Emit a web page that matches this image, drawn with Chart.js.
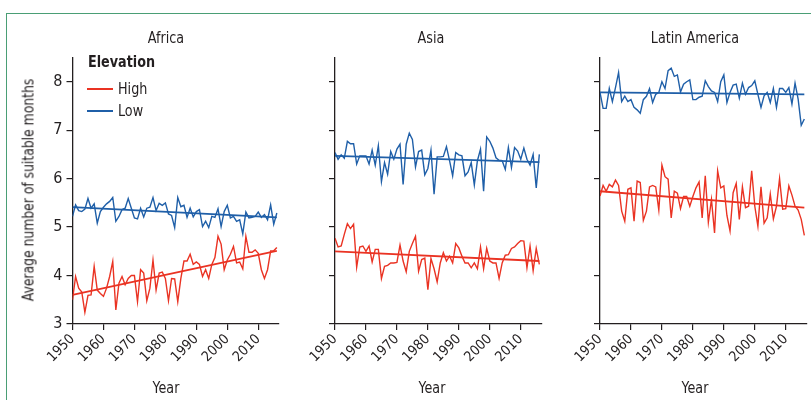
<!DOCTYPE html>
<html><head><meta charset="utf-8">
<script src="https://cdn.jsdelivr.net/npm/chart.js@4.4.0/dist/chart.umd.min.js"></script>
<style>
body{margin:0;background:#fff;width:811px;height:400px;overflow:hidden;position:relative;font-family:"DejaVu Sans Condensed",sans-serif;color:#231f20}
.frame{position:absolute;left:6px;top:13px;width:840px;height:420px;border-left:1.5px solid #4a9e75;border-top:1.5px solid #4a9e75}
canvas{position:absolute;left:0;top:0}
.t{position:absolute;font-size:16.5px;white-space:nowrap;transform:translate(-50%,-50%) scaleX(0.86)}
.l{position:absolute;font-size:16.5px;white-space:nowrap;transform-origin:0 50%;transform:translateY(-50%) scaleX(0.86)}
.sw{position:absolute;height:1.6px;width:26px}
</style></head><body>
<div class="frame"></div>
<canvas id="c0" width="811" height="400"></canvas>
<canvas id="c1" width="811" height="400"></canvas>
<canvas id="c2" width="811" height="400"></canvas>
<div class="t" style="left:166px;top:37px">Africa</div>
<div class="t" style="left:431px;top:37px">Asia</div>
<div class="t" style="left:695px;top:37px">Latin America</div>
<div class="t" style="left:166px;top:387px">Year</div>
<div class="t" style="left:432px;top:387px">Year</div>
<div class="t" style="left:695px;top:387px">Year</div>
<div class="t" style="left:28px;top:190px;font-size:16px;transform:translate(-50%,-50%) rotate(-90deg) scaleX(0.86)">Average number of suitable months</div>
<div class="l" style="left:88px;top:61px;font-weight:bold">Elevation</div>
<div class="sw" style="left:87px;top:88px;background:#ea3323"></div>
<div class="l" style="left:118px;top:88px">High</div>
<div class="sw" style="left:87px;top:110px;background:#1f5fa8"></div>
<div class="l" style="left:118px;top:110px">Low</div>
<script>
const years = [];
for (let y = 1950; y <= 2016; y++) years.push(y);
const trendYears = [1950, 2016];

const africaHigh = [3.50,3.98,3.74,3.66,3.24,3.59,3.60,4.19,3.70,3.63, 3.57,3.74,3.98,4.29,3.29,3.84,3.98,3.81,3.94,4.00, 4.00,3.46,4.12,4.05,3.48,3.74,4.32,3.70,4.05,4.07, 3.94,3.48,3.94,3.93,3.46,3.94,4.30,4.30,4.44,4.23, 4.28,4.23,3.98,4.12,3.94,4.23,4.37,4.81,4.65,4.12, 4.32,4.44,4.60,4.26,4.28,4.14,4.81,4.48,4.48,4.53, 4.46,4.12,3.94,4.12,4.51,4.51,4.58];
const africaLow = [5.22,5.46,5.34,5.32,5.37,5.59,5.39,5.48,5.08,5.32, 5.41,5.48,5.53,5.61,5.12,5.22,5.36,5.39,5.59,5.39, 5.19,5.17,5.39,5.21,5.39,5.41,5.61,5.34,5.49,5.45, 5.50,5.27,5.24,4.99,5.61,5.42,5.45,5.20,5.39,5.21, 5.32,5.36,5.01,5.12,4.99,5.22,5.20,5.38,5.01,5.32, 5.45,5.19,5.22,5.12,5.15,4.86,5.31,5.19,5.20,5.22, 5.31,5.20,5.26,5.15,5.46,5.06,5.29];
const asiaHigh = [4.77,4.59,4.61,4.85,5.07,4.97,5.06,4.17,4.59,4.61, 4.50,4.61,4.28,4.54,4.54,3.94,4.19,4.21,4.26,4.26, 4.27,4.63,4.30,4.08,4.50,4.66,4.81,4.09,4.33,4.36, 3.71,4.35,4.14,3.87,4.26,4.47,4.30,4.40,4.26,4.66, 4.57,4.40,4.26,4.26,4.16,4.26,4.14,4.59,4.14,4.56, 4.30,4.26,4.26,3.94,4.26,4.42,4.43,4.56,4.59,4.66, 4.72,4.71,4.16,4.61,4.10,4.56,4.23];
const asiaLow = [6.54,6.40,6.49,6.42,6.77,6.72,6.72,6.30,6.47,6.47, 6.47,6.30,6.59,6.28,6.68,5.94,6.33,6.09,6.56,6.40, 6.61,6.71,5.88,6.71,6.94,6.81,6.24,6.56,6.59,6.08, 6.21,6.59,5.68,6.45,6.45,6.46,6.66,6.37,6.06,6.54, 6.49,6.47,6.06,6.14,6.33,5.87,6.37,6.61,5.74,6.86, 6.77,6.63,6.43,6.38,6.37,6.19,6.64,6.23,6.64,6.57, 6.40,6.63,6.40,6.28,6.50,5.81,6.50];
const latinHigh = [5.64,5.86,5.74,5.88,5.83,5.97,5.86,5.33,5.12,5.78, 5.81,5.12,5.95,5.92,5.14,5.33,5.83,5.86,5.83,5.35, 6.28,6.04,5.99,5.19,5.74,5.70,5.38,5.63,5.63,5.43, 5.63,5.81,5.93,5.19,6.06,5.10,5.57,4.88,6.16,5.81, 5.85,5.24,4.92,5.71,5.90,5.16,5.83,5.40,5.43,6.16, 5.43,5.02,5.83,5.08,5.19,5.68,5.17,5.43,6.00,5.37, 5.38,5.85,5.66,5.43,5.35,5.16,4.83];
const latinLow = [7.78,7.45,7.45,7.86,7.59,7.88,8.19,7.59,7.70,7.59, 7.63,7.47,7.42,7.35,7.63,7.70,7.86,7.57,7.74,7.78, 8.00,7.86,8.23,8.28,8.11,8.14,7.79,7.95,8.00,8.04, 7.63,7.63,7.68,7.70,8.02,7.90,7.81,7.78,7.59,8.00, 8.14,7.57,7.78,7.93,7.95,7.66,7.97,7.74,7.88,7.92, 8.02,7.74,7.47,7.71,7.78,7.57,7.86,7.47,7.86,7.86, 7.78,7.88,7.54,7.97,7.64,7.10,7.23];

const africaHighTrend = [3.60, 4.51];
const africaLowTrend = [5.41, 5.20];
const asiaHighTrend = [4.50, 4.30];
const asiaLowTrend = [6.47, 6.34];
const latinHighTrend = [5.74, 5.40];
const latinLowTrend = [7.78, 7.74];

const RED = '#ea3323', BLUE = '#1f5fa8', INK = '#231f20';
const FONT = '"DejaVu Sans Condensed",sans-serif';
const PLOT_TOP = 57.5, PLOT_BOTTOM = 324, YW = 50, XH = 60, PW = 206.5;

function pts(xs, ys){ return xs.map((x,i)=>({x:x, y:ys[i]})); }

const panels = [
  {id:'c0', left:72.5, high:africaHigh, low:africaLow, ht:africaHighTrend, lt:africaLowTrend, ylab:true},
  {id:'c1', left:335, high:asiaHigh, low:asiaLow, ht:asiaHighTrend, lt:asiaLowTrend, ylab:false},
  {id:'c2', left:600, high:latinHigh, low:latinLow, ht:latinHighTrend, lt:latinLowTrend, ylab:false}
];

panels.forEach(p => {
  const right = p.left + PW;
  new Chart(document.getElementById(p.id), {
    type:'line',
    data:{datasets:[
      {data:pts(years,p.high), borderColor:RED, borderWidth:1.4, pointRadius:0, tension:0},
      {data:pts(years,p.low), borderColor:BLUE, borderWidth:1.4, pointRadius:0, tension:0},
      {data:pts(trendYears,p.ht), borderColor:RED, borderWidth:1.8, pointRadius:0},
      {data:pts(trendYears,p.lt), borderColor:BLUE, borderWidth:1.8, pointRadius:0}
    ]},
    options:{
      responsive:false, animation:false, devicePixelRatio:1,
      layout:{padding:{left:p.left-YW, right:811-right, top:PLOT_TOP, bottom:400-PLOT_BOTTOM-XH}},
      plugins:{legend:{display:false}, tooltip:{enabled:false}, title:{display:false}},
      scales:{
        x:{type:'linear', min:1950, max:2016.7,
          ticks:{stepSize:10, includeBounds:false, minRotation:45, maxRotation:45, autoSkip:false,
            font:{family:FONT, size:14}, color:INK, padding:1, callback:v=>String(v)},
          grid:{drawOnChartArea:false, drawTicks:true, tickLength:6, color:INK, lineWidth:1.2},
          border:{display:true, color:INK, width:1.3},
          afterFit:s=>{s.height=XH;}},
        y:{type:'linear', min:3, max:8.5,
          ticks:{stepSize:1, includeBounds:false, display:p.ylab, font:{family:FONT, size:16}, color:INK, padding:4},
          grid:{drawOnChartArea:false, drawTicks:true, tickLength:6, color:INK, lineWidth:1.2},
          border:{display:true, color:INK, width:1.3},
          afterFit:s=>{s.width=YW;}}
      }
    }
  });
});
</script>
</body></html>
